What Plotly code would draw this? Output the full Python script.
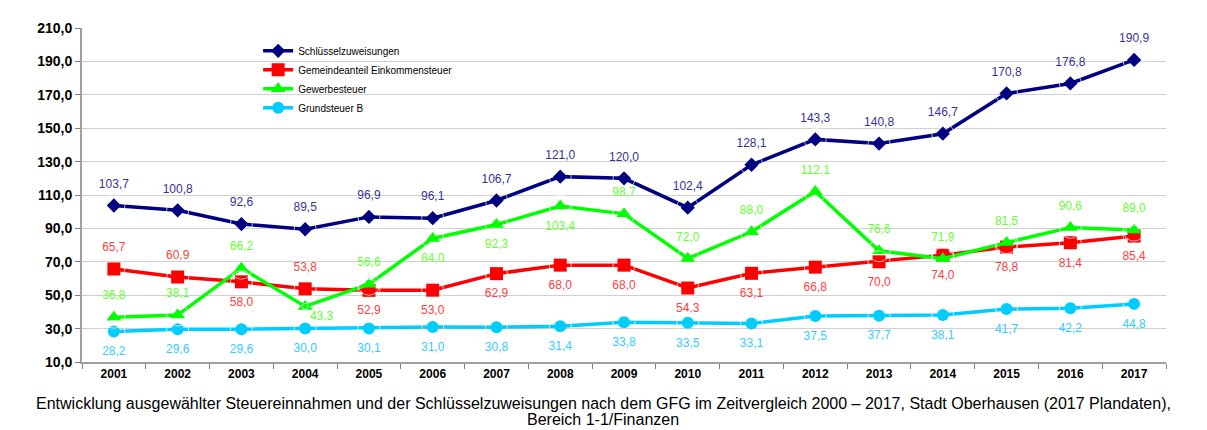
import plotly.graph_objects as go

years = [str(y) for y in range(2001, 2018)]
schluessel = [103.7, 100.8, 92.6, 89.5, 96.9, 96.1, 106.7, 121.0, 120.0, 102.4, 128.1, 143.3, 140.8, 146.7, 170.8, 176.8, 190.9]
gemeinde = [65.7, 60.9, 58.0, 53.8, 52.9, 53.0, 62.9, 68.0, 68.0, 54.3, 63.1, 66.8, 70.0, 74.0, 78.8, 81.4, 85.4]
gewerbe = [36.8, 38.1, 66.2, 43.3, 56.6, 84.0, 92.3, 103.4, 98.7, 72.0, 88.0, 112.1, 76.6, 71.9, 81.5, 90.6, 89.0]
grund = [28.2, 29.6, 29.6, 30.0, 30.1, 31.0, 30.8, 31.4, 33.8, 33.5, 33.1, 37.5, 37.7, 38.1, 41.7, 42.2, 44.8]

gemeinde_pos = ["top center", "top center", "bottom center", "top center"] + ["bottom center"] * 13
gewerbe_pos = ["top center", "top center", "top center", "bottom right", "top center",
               "bottom center", "bottom center", "bottom center"] + ["top center"] * 9

def fmt(v):
    return f"{v:.1f}".replace(".", ",")

series = [
    ("Schlüsselzuweisungen", schluessel, "#000080", "#333399", "diamond", 11, ["top center"] * 17),
    ("Gemeindeanteil Einkommensteuer", gemeinde, "#FF0000", "#FF4040", "square", 13, gemeinde_pos),
    ("Gewerbesteuer", gewerbe, "#00FF00", "#66FF33", "triangle-up", 13, gewerbe_pos),
    ("Grundsteuer B", grund, "#00CCFF", "#33CCFF", "circle", 12, ["bottom center"] * 17),
]

fig = go.Figure()
for name, vals, col, tcol, sym, size, pos in series:
    fig.add_trace(go.Scatter(
        x=years, y=vals, name=name, mode="lines+markers",
        line=dict(color=col, width=3.5),
        marker=dict(symbol=sym, size=size, color=col),
        cliponaxis=False,
    ))
for name, vals, col, tcol, sym, size, pos in series:
    # data labels, offset from the points by a larger invisible marker
    offs = [6 if p == "bottom right" else 22 for p in pos]
    fig.add_trace(go.Scatter(
        x=years, y=vals, name=name, mode="markers+text", showlegend=False,
        marker=dict(size=offs, color="rgba(0,0,0,0)"),
        text=[fmt(v) for v in vals], textposition=pos,
        textfont=dict(family="Arial, Liberation Sans", size=12, color=tcol),
        hoverinfo="skip", cliponaxis=False,
    ))

# page body has an 8px default margin; compensate so plot area lands at x 82-1166, y 21-362
fig.update_layout(
    width=1199, height=422,
    margin=dict(l=74, r=41, t=13, b=68),
    paper_bgcolor="white", plot_bgcolor="white",
    separators=",.",
    font=dict(family="Arial, Liberation Sans", color="black"),
    showlegend=True,
    legend=dict(x=0.1625, y=0.975, xanchor="left", yanchor="top",
                font=dict(size=10, family="Arial, Liberation Sans", color="black"),
                bgcolor="rgba(255,255,255,0)", tracegroupgap=2),
    xaxis=dict(type="category", range=[-0.5, 16.5], tickson="boundaries", ticks="outside", ticklen=5,
               tickcolor="#808080", showline=True, linecolor="#A0A0A0", linewidth=2,
               showgrid=False,
               tickfont=dict(size=12, family="Arial, Liberation Sans", weight="bold")),
    yaxis=dict(range=[10, 210], dtick=20, tick0=10, tickformat=".1f",
               ticks="outside", ticklen=5, tickcolor="#808080",
               showline=True, linecolor="#A0A0A0", linewidth=2,
               showgrid=True, gridcolor="#D0D0D0", gridwidth=1,
               zeroline=False,
               tickfont=dict(size=14, family="Arial, Liberation Sans", weight="bold")),
)

cx = (603 - 82) / 1084
fig.add_annotation(text="Entwicklung ausgewählter Steuereinnahmen und der Schlüsselzuweisungen nach dem GFG im Zeitvergleich 2000 – 2017, Stadt Oberhausen (2017 Plandaten),",
                   xref="paper", yref="paper", x=cx, y=-(404 - 362) / 341,
                   showarrow=False, xanchor="center", yanchor="middle",
                   font=dict(size=16, family="Arial, Liberation Sans", color="black"))
fig.add_annotation(text="Bereich 1-1/Finanzen",
                   xref="paper", yref="paper", x=cx, y=-(421 - 362) / 341,
                   showarrow=False, xanchor="center", yanchor="middle",
                   font=dict(size=16, family="Arial, Liberation Sans", color="black"))

fig.write_html("out.html")
